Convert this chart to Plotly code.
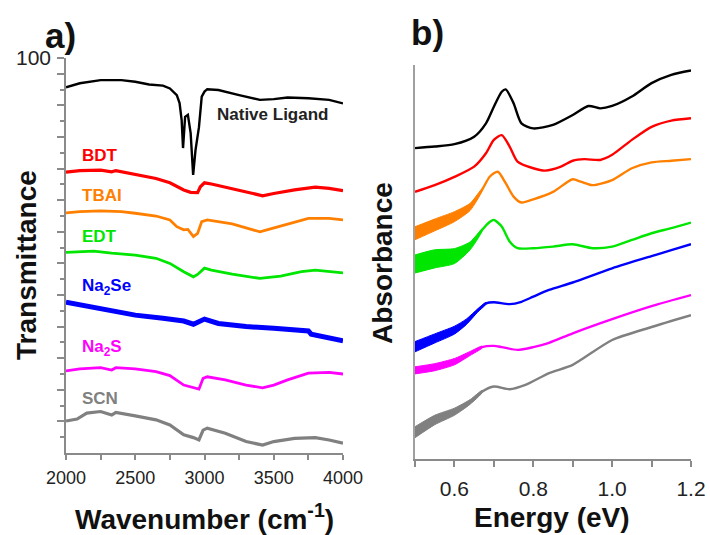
import plotly.graph_objects as go

# ---------------- Panel a) FTIR transmittance (offset, arbitrary 0-100 scale) ----------------
wn_native = [2000, 2100, 2250, 2400, 2500, 2600, 2700, 2750, 2800, 2820, 2835, 2845, 2860, 2880,
             2900, 2918, 2935, 2960, 2980, 3000, 3020, 3100, 3250, 3400, 3500, 3600, 3750, 3900, 4000]
t_native = [92.6, 93.6, 94.4, 94.4, 94.0, 93.3, 93.0, 92.3, 90.6, 88.6, 84.3, 77.2, 85.1, 85.6,
            81.0, 70.4, 76.7, 82.5, 90.2, 91.5, 92.1, 91.9, 90.6, 89.4, 89.6, 90.0, 89.8, 89.4, 88.5]

wn_bdt = [2000, 2100, 2250, 2330, 2360, 2500, 2650, 2750, 2850, 2900, 2950, 2970, 3000, 3050,
          3200, 3350, 3420, 3500, 3650, 3800, 3900, 4000]
t_bdt = [71.1, 71.5, 71.6, 71.2, 71.5, 70.6, 69.5, 68.4, 66.6, 66.0, 65.9, 67.4, 68.4, 68.1,
         67.0, 65.7, 65.1, 65.7, 66.6, 67.3, 67.0, 66.4]

wn_tbai = [2000, 2100, 2250, 2400, 2500, 2650, 2750, 2800, 2850, 2880, 2920, 2950, 2980, 3020,
           3200, 3400, 3450, 3600, 3750, 3900, 4000]
t_tbai = [60.8, 61.1, 61.3, 61.1, 60.7, 60.0, 59.0, 57.3, 56.5, 56.6, 54.8, 55.6, 58.6, 59.0,
          58.0, 56.0, 56.5, 58.0, 59.4, 59.4, 59.0]

wn_edt = [2000, 2100, 2200, 2330, 2500, 2650, 2750, 2850, 2920, 2950, 3000, 3050, 3200, 3400,
          3550, 3700, 3800, 4000]
t_edt = [50.8, 51.0, 51.1, 50.6, 50.1, 49.3, 48.0, 45.9, 44.6, 45.2, 46.8, 46.3, 45.3, 44.2,
         44.8, 45.9, 46.3, 45.6]

wn_na2se = [2000, 2100, 2300, 2500, 2700, 2850, 2920, 2950, 3000, 3100, 3300, 3500, 3700, 3750,
            3770, 3850, 4000]
t_na2se = [38.2, 37.5, 36.2, 34.9, 34.1, 33.4, 32.6, 33.1, 33.9, 32.8, 32.0, 31.6, 31.1, 30.9,
           30.1, 29.4, 28.4]

wn_na2s = [2000, 2100, 2250, 2330, 2360, 2500, 2650, 2750, 2850, 2900, 2960, 2990, 3020, 3150,
           3300, 3420, 3500, 3600, 3750, 3900, 4000]
t_na2s = [20.8, 21.3, 21.6, 21.0, 21.6, 21.3, 20.6, 19.6, 17.2, 16.8, 16.2, 18.9, 19.3, 18.5,
          17.2, 16.5, 17.2, 18.5, 20.2, 20.4, 20.0]

wn_scn = [2000, 2080, 2150, 2250, 2330, 2360, 2500, 2650, 2750, 2850, 2920, 2960, 2990, 3020,
          3150, 3300, 3420, 3500, 3650, 3800, 3900, 4000]
t_scn = [8.1, 8.6, 10.1, 10.5, 9.6, 10.3, 9.4, 8.4, 7.1, 4.6, 3.9, 3.3, 5.8, 6.3,
         5.0, 2.9, 2.0, 2.9, 3.7, 3.9, 3.3, 2.5]

# ---------------- Panel b) absorbance (offset, arbitrary 0-100 scale) ----------------
e_black = [0.50, 0.55, 0.60, 0.65, 0.68, 0.70, 0.72, 0.73, 0.75, 0.77, 0.80, 0.85, 0.90, 0.94,
           0.97, 1.00, 1.05, 1.10, 1.15, 1.20]
a_black = [78.9, 79.3, 79.9, 81.8, 85.2, 89.4, 93.2, 93.8, 90.3, 85.2, 83.9, 84.8, 87.3, 89.6,
           89.0, 89.6, 92.0, 95.4, 97.5, 98.6]

e_red = [0.50, 0.55, 0.60, 0.65, 0.68, 0.70, 0.72, 0.74, 0.76, 0.80, 0.83, 0.87, 0.90, 0.93,
         0.97, 1.00, 1.05, 1.10, 1.15, 1.20]
a_red = [67.8, 69.5, 71.6, 74.2, 77.6, 81.0, 82.2, 79.3, 75.5, 73.8, 73.2, 74.2, 75.7, 76.1,
         75.9, 77.2, 81.0, 84.3, 85.9, 86.5]

e_orange = [0.50, 0.55, 0.60, 0.64, 0.67, 0.69, 0.71, 0.73, 0.75, 0.77, 0.80, 0.85, 0.90, 0.92,
            0.95, 1.00, 1.05, 1.10, 1.15, 1.20]
a_orange = [57.3, 59.4, 61.5, 64.0, 68.3, 71.7, 72.9, 70.0, 66.6, 65.1, 65.9, 67.8, 71.0, 70.4,
            69.5, 70.8, 73.8, 75.3, 75.7, 76.1]
noise_orange = [1.65, 1.5, 1.27, 0.9, 0.3]

e_green = [0.50, 0.55, 0.60, 0.64, 0.67, 0.69, 0.70, 0.72, 0.74, 0.76, 0.80, 0.85, 0.90, 0.95,
           1.00, 1.05, 1.10, 1.15, 1.20]
a_green = [49.5, 50.8, 51.5, 54.1, 58.1, 60.2, 60.7, 59.0, 55.2, 53.5, 53.5, 53.9, 54.5, 53.5,
           53.9, 55.6, 57.3, 58.6, 60.0]
noise_green = [2.3, 2.3, 1.9, 1.0, 0.3]

e_blue = [0.50, 0.55, 0.60, 0.63, 0.66, 0.68, 0.70, 0.74, 0.77, 0.80, 0.84, 0.90, 1.00, 1.10,
          1.15, 1.20]
a_blue = [28.5, 30.6, 32.7, 34.8, 37.8, 39.5, 39.8, 39.3, 39.9, 41.2, 42.9, 44.8, 48.4, 51.5,
          53.0, 54.5]
noise_blue = [1.3, 1.15, 1.0, 0.7, 0.4, 0.25]

e_magenta = [0.50, 0.55, 0.60, 0.64, 0.67, 0.70, 0.72, 0.76, 0.80, 0.84, 0.90, 1.00, 1.10, 1.20]
a_magenta = [22.5, 23.3, 24.7, 26.8, 28.4, 28.7, 28.4, 27.7, 28.4, 29.5, 31.9, 35.5, 38.8, 41.6]
noise_magenta = [0.9, 0.9, 0.8, 0.5, 0.25]

e_gray = [0.50, 0.55, 0.60, 0.64, 0.67, 0.70, 0.74, 0.78, 0.84, 0.90, 1.00, 1.10, 1.20]
a_gray = [6.8, 9.9, 12.0, 14.5, 17.1, 18.4, 17.7, 18.8, 21.8, 23.9, 30.2, 33.5, 36.5]
noise_gray = [1.4, 1.2, 0.9, 0.6, 0.3]

labels_a = ["Native Ligand", "BDT", "TBAI", "EDT", "Na<sub>2</sub>Se", "Na<sub>2</sub>S", "SCN"]
label_x = [3078, 2101, 2101, 2101, 2101, 2101, 2101]
label_y = [85.6, 75.2, 65.1, 54.7, 42.0, 26.6, 13.9]

x_ticks_a = [2000, 2500, 3000, 3500, 4000]
x_ticks_b = [0.6, 0.8, 1.0, 1.2]

BLACK = "#000000"
RED = "#ff0000"
ORANGE = "#ff8000"
GREEN = "#00e600"
BLUE = "#0000ff"
MAGENTA = "#ff00ff"
GRAY = "#808080"
FONT = "Liberation Sans, Arial, sans-serif"
AXIS = "#8a8a8a"

fig = go.Figure()

series_a = [
    (wn_native, t_native, BLACK, 2.4),
    (wn_bdt, t_bdt, RED, 3.2),
    (wn_tbai, t_tbai, ORANGE, 2.8),
    (wn_edt, t_edt, GREEN, 2.8),
    (wn_na2se, t_na2se, BLUE, 5),
    (wn_na2s, t_na2s, MAGENTA, 2.8),
    (wn_scn, t_scn, GRAY, 3.2),
]
for xs, ys, c, w in series_a:
    fig.add_trace(go.Scatter(x=xs, y=ys, mode="lines", line=dict(color=c, width=w),
                             xaxis="x", yaxis="y", showlegend=False, hoverinfo="skip"))

series_b = [
    (e_black, a_black, BLACK, None),
    (e_red, a_red, RED, None),
    (e_orange, a_orange, ORANGE, noise_orange),
    (e_green, a_green, GREEN, noise_green),
    (e_blue, a_blue, BLUE, noise_blue),
    (e_magenta, a_magenta, MAGENTA, noise_magenta),
    (e_gray, a_gray, GRAY, noise_gray),
]
for xs, ys, c, nz in series_b:
    if nz is not None:
        n = len(nz)
        bx = xs[:n] + xs[:n][::-1]
        by = [ys[i] + nz[i] for i in range(n)] + [ys[i] - nz[i] for i in range(n)][::-1]
        fig.add_trace(go.Scatter(x=bx, y=by, mode="lines", fill="toself", fillcolor=c,
                                 line=dict(color=c, width=1, shape="spline", smoothing=0.6),
                                 xaxis="x2", yaxis="y2", showlegend=False, hoverinfo="skip"))
    fig.add_trace(go.Scatter(x=xs, y=ys, mode="lines",
                             line=dict(color=c, width=2.4, shape="spline", smoothing=0.7),
                             xaxis="x2", yaxis="y2", showlegend=False, hoverinfo="skip"))

label_colors = [BLACK, RED, ORANGE, GREEN, BLUE, MAGENTA, GRAY]
anns = []
for t, lx, ly, c in zip(labels_a, label_x, label_y, label_colors):
    anns.append(dict(text=t, x=lx, y=ly, xref="x", yref="y", xanchor="left", yanchor="middle",
                     showarrow=False,
                     font=dict(family=FONT, size=17, color="#222222" if c == BLACK else c,
                               weight="bold")))

anns += [
    dict(text="a)", x=60 / 710, y=1 - 35 / 535, xref="paper", yref="paper", showarrow=False,
         xanchor="center", yanchor="middle", font=dict(family=FONT, size=35, color="#111", weight="bold")),
    dict(text="b)", x=427 / 710, y=1 - 33 / 535, xref="paper", yref="paper", showarrow=False,
         xanchor="center", yanchor="middle", font=dict(family=FONT, size=35, color="#111", weight="bold")),
    dict(text="Wavenumber (cm<sup>-1</sup>)", x=204 / 710, y=1 - 517 / 535, xref="paper", yref="paper",
         showarrow=False, xanchor="center", yanchor="middle",
         font=dict(family=FONT, size=28, color="#111", weight="bold")),
    dict(text="Energy (eV)", x=552 / 710, y=1 - 517 / 535, xref="paper", yref="paper",
         showarrow=False, xanchor="center", yanchor="middle",
         font=dict(family=FONT, size=28, color="#111", weight="bold")),
    dict(text="Transmittance", x=27 / 710, y=1 - 265 / 535, xref="paper", yref="paper",
         showarrow=False, xanchor="center", yanchor="middle", textangle=-90,
         font=dict(family=FONT, size=28, color="#111", weight="bold")),
    dict(text="Absorbance", x=382 / 710, y=1 - 263 / 535, xref="paper", yref="paper",
         showarrow=False, xanchor="center", yanchor="middle", textangle=-90,
         font=dict(family=FONT, size=28, color="#111", weight="bold")),
]

y_major = [8 * k for k in range(1, 13)] + [100]
y_text = [""] * 12 + ["100"]
y_minor = [4 + 8 * k for k in range(12)]

fig.update_layout(
    width=710, height=535, autosize=False,
    margin=dict(l=0, r=0, t=0, b=0),
    paper_bgcolor="white", plot_bgcolor="white",
    showlegend=False,
    annotations=anns,
    xaxis=dict(domain=[66 / 710, 343 / 710], range=[2000, 4000], showgrid=False, zeroline=False,
               automargin=False,
               showline=True, linecolor=AXIS, linewidth=1.5, ticks="outside", ticklen=5,
               tickcolor=AXIS, tickwidth=1.5, tickvals=x_ticks_a,
               ticktext=[str(v) for v in x_ticks_a],
               minor=dict(dtick=250, tick0=2000, ticks="outside", ticklen=5, tickcolor=AXIS,
                          tickwidth=1.5, showgrid=False),
               tickfont=dict(family=FONT, size=18, color="#222"), ticklabelstandoff=3),
    yaxis=dict(domain=[1 - 453 / 535, 1 - 58 / 535], range=[0, 100], showgrid=False, zeroline=False,
               automargin=False,
               showline=True, linecolor=AXIS, linewidth=1.5, ticks="outside", ticklen=7,
               tickcolor=AXIS, tickwidth=1.5, tickvals=y_major, ticktext=y_text,
               minor=dict(tickvals=y_minor, ticks="outside", ticklen=4, tickcolor=AXIS,
                          tickwidth=1.5, showgrid=False),
               tickfont=dict(family=FONT, size=21, color="#222"), ticklabelstandoff=2),
    xaxis2=dict(domain=[415 / 710, 691 / 710], range=[0.5, 1.2], anchor="y2", showgrid=False,
                automargin=False,
                zeroline=False, showline=True, linecolor=AXIS, linewidth=1.5, ticks="outside",
                ticklen=6, tickcolor=AXIS, tickwidth=1.5, tickvals=x_ticks_b,
                ticktext=[f"{v:.1f}" for v in x_ticks_b],
                minor=dict(dtick=0.1, tick0=0.5, ticks="outside", ticklen=6, tickcolor=AXIS,
                           tickwidth=1.5, showgrid=False),
                tickfont=dict(family=FONT, size=21, color="#222"), ticklabelstandoff=4),
    yaxis2=dict(domain=[1 - 459 / 535, 1 - 65 / 535], range=[0, 100], anchor="x2", showgrid=False,
                automargin=False,
                zeroline=False, showline=True, linecolor="#a0a0a0", linewidth=2, ticks="",
                showticklabels=False),
)

fig.write_html("out.html")
